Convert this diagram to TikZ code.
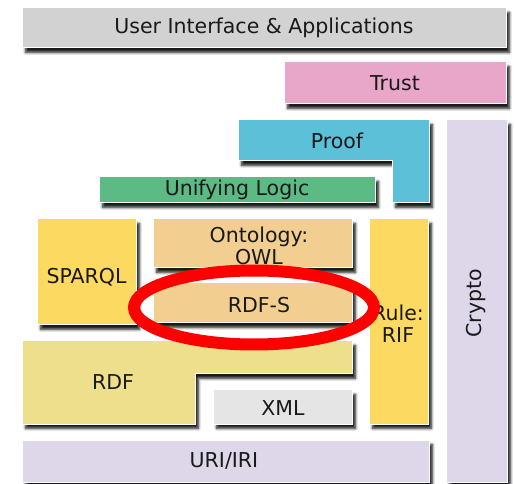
\documentclass[tikz,border=0pt]{standalone}
\usepackage{fontspec}
\setmainfont{DejaVu Sans}
\usetikzlibrary{shadows.blur}
\definecolor{cUI}{HTML}{D3D2D2}
\definecolor{cTrust}{HTML}{E8A6C8}
\definecolor{cProof}{HTML}{5BC0D8}
\definecolor{cCrypto}{HTML}{DED7EA}
\definecolor{cLogic}{HTML}{5CBB85}
\definecolor{cYellow}{HTML}{FCD961}
\definecolor{cOnto}{HTML}{F2CF90}
\definecolor{cRDF}{HTML}{EEDF8D}
\definecolor{cXML}{HTML}{E5E5E5}
\definecolor{cRed}{HTML}{FF0000}
\tikzset{
  layer/.style={draw=white, line width=1pt,
    blur shadow={shadow xshift=3.5pt, shadow yshift=-4.5pt, shadow blur radius=2.5pt, shadow blur steps=6, shadow opacity=90}},
  box/.style={layer, rectangle, inner sep=0pt},
  lbl/.style={inner sep=0pt, align=center, font=\fontsize{20.5}{22}\selectfont, text=black!90}
}
\begin{document}
\begin{tikzpicture}[x=1pt,y=-1pt]
\useasboundingbox (0,0) rectangle (515,484);
% boxes
\node[box, fill=cUI, minimum width=484pt, minimum height=40pt] (ui) at (264,28) {};
\node[box, fill=cTrust, minimum width=222pt, minimum height=42pt] (trust) at (395,83) {};
\node[box, fill=cCrypto, minimum width=61pt, minimum height=362pt] (crypto) at (476.5,301) {};
\path[layer, fill=cProof] (238,120) -- (429,120) -- (429,203) -- (392,203) -- (392,161) -- (238,161) -- cycle;
\node[box, fill=cLogic, minimum width=276pt, minimum height=26pt] (logic) at (237,190) {};
\node[box, fill=cYellow, minimum width=99pt, minimum height=106pt] (sparql) at (86.5,272) {};
\node[box, fill=cOnto, minimum width=199pt, minimum height=49pt] (onto) at (252.5,243.5) {};
\node[box, fill=cOnto, minimum width=199pt, minimum height=40pt] (rdfs) at (252.5,303) {};
\node[box, fill=cYellow, minimum width=59pt, minimum height=205pt] (rule) at (398.5,321.5) {};
\path[layer, fill=cRDF] (22,341) -- (352,341) -- (352,374) -- (195,374) -- (195,424) -- (22,424) -- cycle;
\node[box, fill=cXML, minimum width=139pt, minimum height=34pt] (xml) at (282.5,407) {};
\node[box, fill=cCrypto, minimum width=407pt, minimum height=42pt] (uri) at (225.5,461) {};
% labels
\node[lbl] (tui) at (264,28) {User Interface \& Applications};
\node[lbl] (ttrust) at (395,83) {Trust};
\node[lbl] (tproof) at (337,141) {Proof};
\node[lbl, rotate=90] (tcrypto) at (476,303.5) {Crypto};
\node[lbl] (tlogic) at (237,190) {Unifying Logic};
\node[lbl] (tsparql) at (86.5,277) {SPARQL};
\node[lbl] (tonto) at (259,246) {Ontology:\\OWL};
\node[lbl] (trdfs) at (259,305) {RDF-S};
\node[lbl] (trule) at (398,324) {Rule:\\RIF};
\node[lbl] (trdf) at (113,382) {RDF};
\node[lbl] (txml) at (283,408) {XML};
\node[lbl] (turi) at (224,461) {URI/IRI};
% highlight
\draw[cRed, line width=12pt] (254,307.5) ellipse [x radius=120, y radius=37];
\end{tikzpicture}
\end{document}
